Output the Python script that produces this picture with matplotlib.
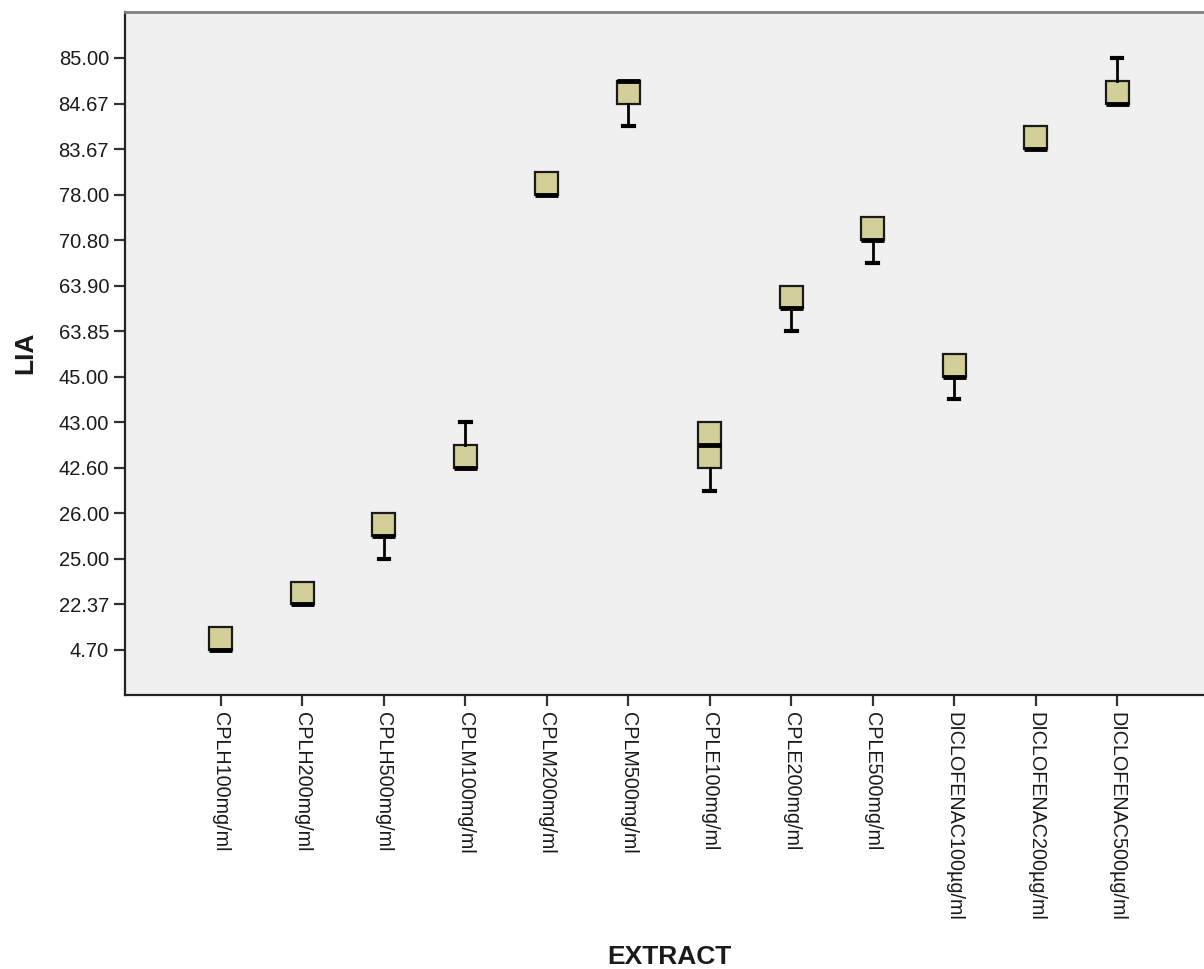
import matplotlib.pyplot as plt

# Niveis do eixo LIA (eixo ordinal, de baixo para cima)
niveis_lia = ['4.70', '22.37', '25.00', '26.00', '42.60', '43.00', '45.00',
              '63.85', '63.90', '70.80', '78.00', '83.67', '84.67', '85.00']

extratos = ['CPLH100mg/ml', 'CPLH200mg/ml', 'CPLH500mg/ml', 'CPLM100mg/ml',
            'CPLM200mg/ml', 'CPLM500mg/ml', 'CPLE100mg/ml', 'CPLE200mg/ml',
            'CPLE500mg/ml', 'DICLOFENAC100µg/ml', 'DICLOFENAC200µg/ml',
            'DICLOFENAC500µg/ml']

# Estatisticas das caixas (em posicao do nivel ordinal)
bigode_inf = [0, 1, 2, 4, 10, 11.5, 3.5, 7, 8.5, 5.5, 11, 12]
q1 = [0, 1, 2.5, 4, 10, 12, 4, 7.5, 9, 6, 11, 12]
mediana = [0, 1, 2.5, 4, 10, 12.5, 4.5, 7.5, 9, 6, 11, 12]
q3 = [0.5, 1.5, 3, 4.5, 10.5, 12.5, 5, 8, 9.5, 6.5, 11.5, 12.5]
bigode_sup = [0.5, 1.5, 3, 5, 10.5, 12.5, 5, 8, 9.5, 6.5, 11.5, 13]

estatisticas = []
for i in range(len(extratos)):
    estatisticas.append({'whislo': bigode_inf[i], 'q1': q1[i], 'med': mediana[i],
                         'q3': q3[i], 'whishi': bigode_sup[i], 'fliers': []})

plt.rcParams['font.family'] = ['Liberation Sans', 'DejaVu Sans']

fig = plt.figure(figsize=(12.04, 9.69), dpi=100)
ax = fig.add_axes([125 / 1204, 1 - 695 / 969, 1088 / 1204, 683 / 969])
ax.set_facecolor('#F0F0F0')

posicoes = list(range(len(extratos)))
caixas = ax.bxp(estatisticas, positions=posicoes, widths=0.28, capwidths=0.13,
                patch_artist=True, showfliers=False,
                boxprops=dict(facecolor='#D3CF98', edgecolor='#1a1a1a', linewidth=1.6),
                medianprops=dict(color='black', linewidth=3.5),
                whiskerprops=dict(color='black', linewidth=2),
                capprops=dict(color='black', linewidth=3))

# Esconder bigodes de comprimento zero (SPSS nao desenha)
for i in range(len(extratos)):
    if bigode_inf[i] == q1[i]:
        caixas['caps'][2 * i].set_visible(False)
        caixas['whiskers'][2 * i].set_visible(False)
    if bigode_sup[i] == q3[i]:
        caixas['caps'][2 * i + 1].set_visible(False)
        caixas['whiskers'][2 * i + 1].set_visible(False)

ax.set_xlim(-1.176, 12.176)
ax.set_ylim(-0.99, 14.01)

ax.set_yticks(range(len(niveis_lia)))
ax.set_yticklabels(niveis_lia, fontsize=14.5, color='#1a1a1a')
ax.set_xticks(posicoes)
ax.set_xticklabels(extratos, rotation=270, fontsize=14.2, color='#1a1a1a',
                   ha='center', va='top')
ax.tick_params(axis='both', length=8, width=1.6, color='#333333')
ax.tick_params(axis='x', pad=4)

ax.spines['right'].set_visible(False)
ax.spines['top'].set_color('#808080')
ax.spines['top'].set_linewidth(2)
ax.spines['left'].set_color('#222222')
ax.spines['left'].set_linewidth(1.6)
ax.spines['bottom'].set_color('#222222')
ax.spines['bottom'].set_linewidth(1.6)

fig.text(25 / 1204, 1 - 353 / 969, 'LIA', rotation=90, fontsize=19, fontweight='bold',
         ha='center', va='center', color='#1a1a1a')
fig.text(669 / 1204, 1 - 957 / 969, 'EXTRACT', fontsize=19, fontweight='bold',
         ha='center', va='center', color='#1a1a1a')

fig.savefig('out.png', dpi=100)
